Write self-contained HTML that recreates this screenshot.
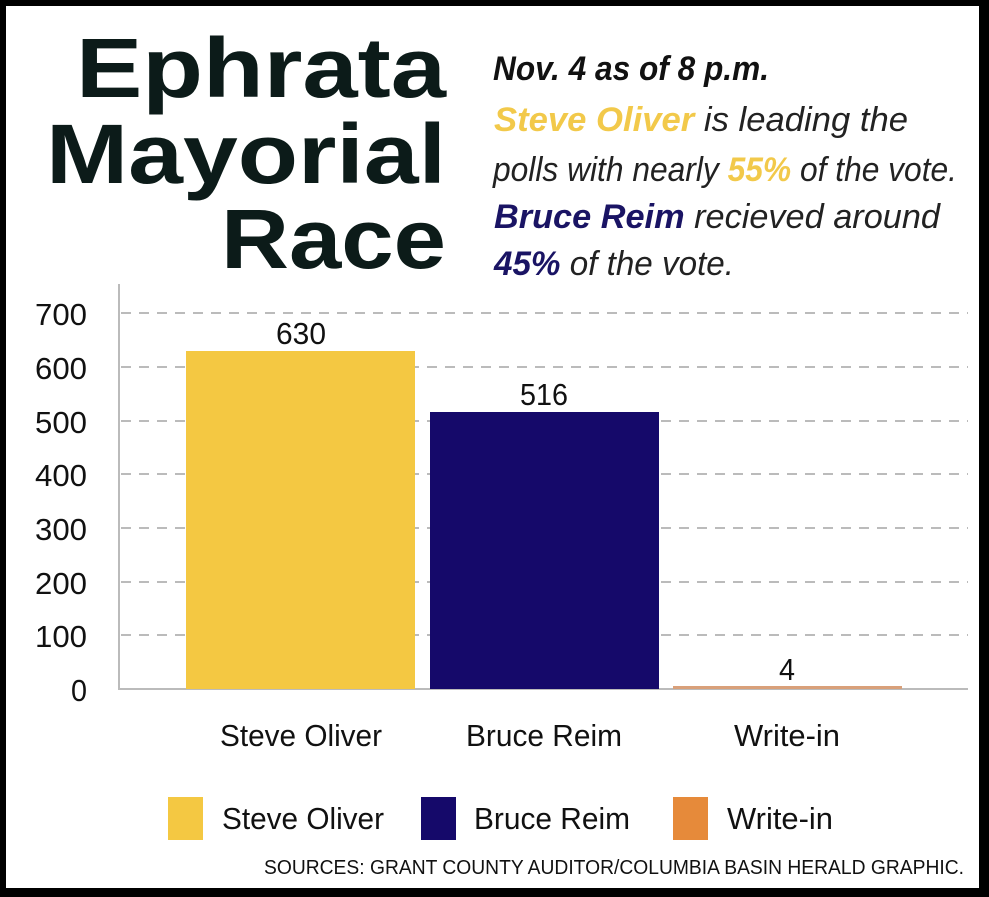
<!DOCTYPE html>
<html><head><meta charset="utf-8"><style>
html,body{margin:0;padding:0;background:#000;}
svg{display:block;}
</style></head><body>
<svg width="989" height="897" viewBox="0 0 989 897" xmlns="http://www.w3.org/2000/svg">
<rect x="0" y="0" width="989" height="897" fill="#000"/>
<rect x="6" y="6" width="973" height="882" fill="#fff"/>
<g font-family="Liberation Sans, sans-serif" font-weight="bold" fill="#0c1b19" font-size="84" text-anchor="end">
<text x="446" y="97" textLength="370" lengthAdjust="spacingAndGlyphs">Ephrata</text>
<text x="446" y="183" textLength="400" lengthAdjust="spacingAndGlyphs">Mayorial</text>
<text x="446" y="268" textLength="225" lengthAdjust="spacingAndGlyphs">Race</text>
</g>
<g font-family="Liberation Sans, sans-serif" font-style="italic" font-size="34" fill="#222">
<text x="493" y="80" font-weight="bold" fill="#111" textLength="276" lengthAdjust="spacingAndGlyphs">Nov. 4 as of 8 p.m.</text>
<text x="494" y="131" textLength="414" lengthAdjust="spacingAndGlyphs"><tspan font-weight="bold" fill="#f2c94a">Steve Oliver</tspan> is leading the</text>
<text x="493" y="181" textLength="464" lengthAdjust="spacingAndGlyphs">polls with nearly <tspan font-weight="bold" fill="#f2c94a">55%</tspan> of the vote.</text>
<text x="494" y="228" textLength="446" lengthAdjust="spacingAndGlyphs"><tspan font-weight="bold" fill="#1a1464">Bruce Reim</tspan> recieved around</text>
<text x="494" y="275" textLength="240" lengthAdjust="spacingAndGlyphs"><tspan font-weight="bold" fill="#1a1464">45%</tspan> of the vote.</text>
</g>
<g stroke="#bbb" stroke-width="2" stroke-dasharray="10,8">
<line x1="121" y1="313" x2="968" y2="313"/>
<line x1="121" y1="367" x2="968" y2="367"/>
<line x1="121" y1="421" x2="968" y2="421"/>
<line x1="121" y1="474" x2="968" y2="474"/>
<line x1="121" y1="528" x2="968" y2="528"/>
<line x1="121" y1="582" x2="968" y2="582"/>
<line x1="121" y1="635" x2="968" y2="635"/>
</g>
<line x1="119" y1="284" x2="119" y2="690" stroke="#bbb" stroke-width="2"/>
<line x1="119" y1="689" x2="968" y2="689" stroke="#bbb" stroke-width="2"/>
<rect x="186" y="351" width="229" height="338" fill="#f4c842"/>
<rect x="430" y="412" width="229" height="277" fill="#15096a"/>
<rect x="673" y="686" width="229" height="3" fill="#d9a07a"/>
<g font-family="Liberation Sans, sans-serif" font-size="31" fill="#111">
<g text-anchor="end">
<text x="87" y="325" textLength="52" lengthAdjust="spacingAndGlyphs">700</text>
<text x="87" y="379" textLength="52" lengthAdjust="spacingAndGlyphs">600</text>
<text x="87" y="433" textLength="52" lengthAdjust="spacingAndGlyphs">500</text>
<text x="87" y="486" textLength="52" lengthAdjust="spacingAndGlyphs">400</text>
<text x="87" y="540" textLength="52" lengthAdjust="spacingAndGlyphs">300</text>
<text x="87" y="594" textLength="52" lengthAdjust="spacingAndGlyphs">200</text>
<text x="87" y="647" textLength="52" lengthAdjust="spacingAndGlyphs">100</text>
<text x="87" y="701" textLength="16" lengthAdjust="spacingAndGlyphs">0</text>
</g>
<g text-anchor="middle">
<text x="301" y="344" textLength="50" lengthAdjust="spacingAndGlyphs">630</text>
<text x="544" y="405" textLength="48" lengthAdjust="spacingAndGlyphs">516</text>
<text x="787" y="680" textLength="16" lengthAdjust="spacingAndGlyphs">4</text>
<text x="301" y="746" textLength="162" lengthAdjust="spacingAndGlyphs">Steve Oliver</text>
<text x="544" y="746" textLength="156" lengthAdjust="spacingAndGlyphs">Bruce Reim</text>
<text x="787" y="746" textLength="106" lengthAdjust="spacingAndGlyphs">Write-in</text>
</g>
<rect x="168" y="797" width="35" height="43" fill="#f4c842"/>
<rect x="421" y="797" width="35" height="43" fill="#15096a"/>
<rect x="673" y="797" width="35" height="43" fill="#e68a3a"/>
<text x="222" y="829" textLength="162" lengthAdjust="spacingAndGlyphs">Steve Oliver</text>
<text x="474" y="829" textLength="156" lengthAdjust="spacingAndGlyphs">Bruce Reim</text>
<text x="727" y="829" textLength="106" lengthAdjust="spacingAndGlyphs">Write-in</text>
<text x="264" y="874" font-size="20" textLength="700" lengthAdjust="spacingAndGlyphs">SOURCES: GRANT COUNTY AUDITOR/COLUMBIA BASIN HERALD GRAPHIC.</text>
</g>
</svg>
</body></html>
